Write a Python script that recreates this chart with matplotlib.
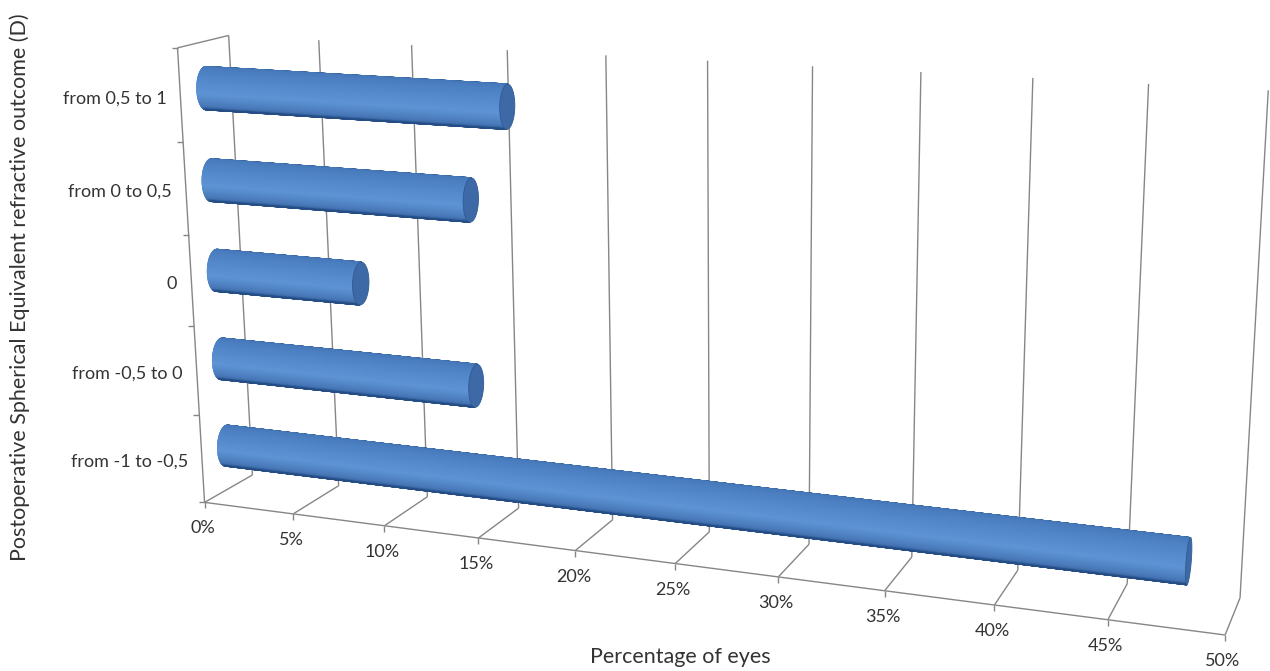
import numpy as np
import matplotlib.pyplot as plt
from matplotlib.patches import Polygon
from matplotlib.collections import PolyCollection
from matplotlib.colors import LinearSegmentedColormap

# outcome classes (bottom to top) and share of eyes in each, in %
categories = ['from -1 to -0,5', 'from -0,5 to 0', '0', 'from 0 to 0,5', 'from 0,5 to 1']
percent_eyes = [48, 14, 8, 14, 16]
x_ticks = [0, 5, 10, 15, 20, 25, 30, 35, 40, 45, 50]
x_tick_labels = [f'{t}%' for t in x_ticks]

W, H = 1270, 671
X_MAX = 50
N_CAT = len(categories)

# box corners (value, category, depth) -> pixel, used to fit the perspective camera
box_world = [(0, 0, 0), (50, 0, 0), (0, 0, 1), (50, 0, 1), (0, 5, 0), (0, 5, 1), (50, 5, 1),
             (5, 5, 1), (10, 5, 1), (15, 5, 1), (45, 0, 0)]
box_pixel = [(205, 502), (1225, 635), (252, 475), (1240, 598), (177, 48), (229, 36), (1268, 90),
             (318, 40), (412, 45), (508, 50), (1108, 620)]


def fit_camera(world, pixel):
    rows = []
    for (X, Y, Z), (u, v) in zip(world, pixel):
        rows.append([X, Y, Z, 1, 0, 0, 0, 0, -u * X, -u * Y, -u * Z, -u])
        rows.append([0, 0, 0, 0, X, Y, Z, 1, -v * X, -v * Y, -v * Z, -v])
    _, _, vt = np.linalg.svd(np.array(rows, dtype=float))
    return vt[-1].reshape(3, 4)


P = fit_camera(box_world, box_pixel)
_, _, vt = np.linalg.svd(P)
cam = vt[-1][:3] / vt[-1][3]  # camera centre in world units


def project(X, Y, Z):
    X, Y, Z = np.broadcast_arrays(np.asarray(X, float), np.asarray(Y, float), np.asarray(Z, float))
    pts = np.stack([X, Y, Z, np.ones_like(X)])
    q = np.tensordot(P, pts, axes=1)
    return q[0] / q[2], q[1] / q[2]


fig = plt.figure(figsize=(W / 100, H / 100), dpi=100)
ax = fig.add_axes([0, 0, 1, 1])
ax.set_xlim(0, W)
ax.set_ylim(H, 0)
ax.axis('off')

grid_kw = dict(color='#868686', lw=1.0, solid_capstyle='butt', zorder=1)
text_kw = dict(family='Lato', color='#333333')


def line3d(p0, p1, **kw):
    u, v = project(*np.array([p0, p1]).T)
    ax.plot(u, v, **kw)


# back wall gridlines and floor depth lines
for t in x_ticks:
    line3d((t, 0, 1), (t, N_CAT, 1), **grid_kw)
    line3d((t, 0, 0), (t, 0, 1), **grid_kw)
# front edge of the floor and left wall outline
line3d((0, 0, 0), (X_MAX, 0, 0), **grid_kw)
line3d((0, 0, 0), (0, N_CAT, 0), **grid_kw)
line3d((0, N_CAT, 0), (0, N_CAT, 1), **grid_kw)

# tick marks and labels
for t, lab in zip(x_ticks, x_tick_labels):
    u, v = project(t, 0, 0)
    ax.plot([u, u], [v, v + 6], **grid_kw)
    ax.text(u - 2, v + 26, lab, ha='center', va='center', fontsize=13, **text_kw)
for k in range(N_CAT + 1):
    u, v = project(0, k, 0)
    ax.plot([u - 6, u], [v, v], **grid_kw)
for k, lab in enumerate(categories):
    u, v = project(0, k + 0.5, 0)
    ax.text(u - 14, v + 3, lab, ha='right', va='center', fontsize=13, **text_kw)

ax.text(680, 657, 'Percentage of eyes', ha='center', va='center', fontsize=15.5, **text_kw)
ax.text(20, 287, 'Postoperative Spherical Equivalent refractive outcome (D)', ha='center',
        va='center', rotation=90, fontsize=15.5, **text_kw)

# cylinder bars
shade = LinearSegmentedColormap.from_list('cyl', [
    (0.00, '#2a5790'), (0.06, '#4577b8'), (0.30, '#4e83c5'),
    (0.60, '#5e94d5'), (0.86, '#4575b4'), (1.00, '#264e86')])
r_cat, r_depth, z_mid = 0.23, 0.18, 0.5
n_strips = 120

for k, val in enumerate(percent_eyes):
    yc = k + 0.5
    a = (cam[1] - yc) / r_cat
    b = (cam[2] - z_mid) / r_depth
    phi = np.arctan2(b, a)
    half = np.arccos(1 / np.hypot(a, b))
    th = np.linspace(phi - half, phi + half, n_strips + 1)
    if np.cos(th[0]) < np.cos(th[-1]):
        th = th[::-1]  # start from the upper silhouette
    ys = yc + r_cat * np.cos(th)
    zs = z_mid + r_depth * np.sin(th)
    polys, colors = [], []
    for i in range(n_strips):
        X = [0, val, val, 0]
        Y = [ys[i], ys[i], ys[i + 1], ys[i + 1]]
        Z = [zs[i], zs[i], zs[i + 1], zs[i + 1]]
        u, v = project(X, Y, Z)
        polys.append(np.column_stack([u, v]))
        colors.append(shade(i / (n_strips - 1)))
    ax.add_collection(PolyCollection(polys, facecolors=colors, edgecolors=colors,
                                     linewidths=1.0, zorder=3))
    if cam[0] > val:
        tt = np.linspace(0, 2 * np.pi, 120)
        u, v = project(np.full_like(tt, val), yc + r_cat * np.cos(tt), z_mid + r_depth * np.sin(tt))
        ax.add_patch(Polygon(np.column_stack([u, v]), closed=True, facecolor='#3d6aa7',
                             edgecolor='#2f5a92', lw=0.6, zorder=4))

fig.savefig('out.png', dpi=100)
